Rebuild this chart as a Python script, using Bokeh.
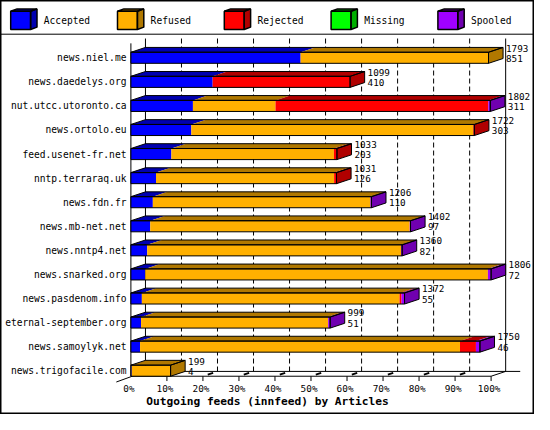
from bokeh.plotting import figure
from bokeh.models import Range1d
from bokeh.embed import file_html
from bokeh.resources import INLINE
from bokeh.core.properties import value

# ---------------- data ----------------
feeds = ["news.niel.me", "news.daedelys.org", "nut.utcc.utoronto.ca", "news.ortolo.eu",
         "feed.usenet-fr.net", "nntp.terraraq.uk", "news.fdn.fr", "news.mb-net.net",
         "news.nntp4.net", "news.snarked.org", "news.pasdenom.info", "eternal-september.org",
         "news.samoylyk.net", "news.trigofacile.com"]
offered  = [1793, 1099, 1802, 1722, 1033, 1031, 1206, 1402, 1360, 1806, 1372, 999, 1750, 199]
accepted = [851, 410, 311, 303, 203, 126, 110, 97, 82, 72, 55, 51, 46, 4]
refused  = [942, 0, 414, 1414, 815, 893, 1091, 1301, 1273, 1718, 1292, 938, 1604, 195]
rejected = [0, 689, 1067, 5, 15, 12, 0, 0, 0, 0, 10, 0, 80, 0]
missing  = [0, 0, 0, 0, 0, 0, 0, 0, 0, 0, 0, 0, 0, 0]
spooled  = [0, 0, 10, 0, 0, 0, 5, 4, 5, 16, 15, 10, 20, 0]

series_names = ["Accepted", "Refused", "Rejected", "Missing", "Spooled"]
front_colors = ["#0000FF", "#FFB000", "#FF0000", "#00FF00", "#A000FF"]
side_colors  = ["#0000B0", "#B07800", "#B00000", "#00B000", "#7000B0"]
tick_values = [0, 10, 20, 30, 40, 50, 60, 70, 80, 90, 100]
tick_labels = ["0%", "10%", "20%", "30%", "40%", "50%", "60%", "70%", "80%", "90%", "100%"]
axis_title = "Outgoing feeds (innfeed) by Articles"

# ---------------- layout (reference pixel space -> data space) ----------------
W, H = 534, 414
REF_W, REF_H = 550, 430
X0, PX_PCT = 134.3, 3.71      # 0% position, px per percent
Y0, PX_ROW = 59.5, 25.0       # first row centre, px per row


def xd(px):
    return (px - X0) / PX_PCT


def yd(py):
    return (py - Y0) / PX_ROW


DX = 15 / PX_PCT
DY = 5 / PX_ROW
HH = 5.75 / PX_ROW
TOP_BACK = yd(39.5)
FLOOR_F = yd(390.25)
FLOOR_B = FLOOR_F - DY

FONT = value("DejaVu Sans Mono")

p = figure(width=W, height=H, x_range=Range1d(xd(0), xd(REF_W)),
           y_range=Range1d(yd(REF_H), yd(0)), output_backend="svg",
           toolbar_location=None, x_axis_type=None, y_axis_type=None,
           min_border=0, title=None)
p.outline_line_color = "black"
p.outline_line_width = 2
p.background_fill_color = "white"
p.border_fill_color = "white"

# ---------------- walls, grid, floor ----------------
gx = [v + DX for v in tick_values[1:-1]]
p.segment(x0=gx, y0=[TOP_BACK] * len(gx), x1=gx, y1=[FLOOR_B] * len(gx),
          line_color="black", line_width=1, line_dash="5 3")

sx0 = [DX, 100 + DX, 0, 0, DX, DX, 100]
sy0 = [TOP_BACK, TOP_BACK, TOP_BACK + DY, FLOOR_F, FLOOR_B, FLOOR_B, FLOOR_F]
sx1 = [DX, 100 + DX, 0, 100, 100 + 2 * DX, -DX, 100 + DX]
sy1 = [FLOOR_B, FLOOR_B, FLOOR_F, FLOOR_F, FLOOR_B, FLOOR_F + 1.2 * DY, FLOOR_B]
p.segment(x0=sx0, y0=sy0, x1=sx1, y1=sy1, line_color="black", line_width=1)

tk = tick_values[1:]
p.segment(x0=tk, y0=[FLOOR_F] * len(tk), x1=tk, y1=[FLOOR_F + 5 / PX_ROW] * len(tk),
          line_color="black", line_width=1)
fd = tick_values[1:-1]
p.segment(x0=[v + 0.33 * DX for v in fd], y0=[FLOOR_F - 0.33 * DY] * len(fd),
          x1=[v + 0.7 * DX for v in fd], y1=[FLOOR_F - 0.7 * DY] * len(fd),
          line_color="black", line_width=2)

# ---------------- bars ----------------
max_total = max(offered)
series = [accepted, refused, rejected, missing, spooled]

fl, fr, ft, fb, fc = [], [], [], [], []
txs, tys, tcs = [], [], []
sxs, sys_, scs = [], [], []
oxs, oys = [], []
for i in range(len(feeds)):
    r = i
    rt, rb = r - HH, r + HH
    cum = 0.0
    last = 0
    for s, vals in enumerate(series):
        v = vals[i]
        if v <= 0:
            continue
        a = 100.0 * cum / max_total
        cum += v
        b = 100.0 * cum / max_total
        fl.append(a); fr.append(b); ft.append(rt); fb.append(rb); fc.append(front_colors[s])
        txs.append([a, b, b + DX, a + DX]); tys.append([rt, rt, rt - DY, rt - DY])
        tcs.append(side_colors[s])
        last = s
    L = 100.0 * cum / max_total
    sxs.append([L, L + DX, L + DX, L]); sys_.append([rt, rt - DY, rb - DY, rb])
    scs.append(side_colors[last])
    oxs += [[0, L, L, 0], [0, L, L + DX, DX], [L, L + DX, L + DX, L]]
    oys += [[rt, rt, rb, rb], [rt, rt, rt - DY, rt - DY], [rt, rt - DY, rb - DY, rb]]

p.quad(left=fl, right=fr, top=ft, bottom=fb, fill_color=fc, line_color=None)
p.patches(xs=txs, ys=tys, fill_color=tcs, line_color=None)
p.patches(xs=sxs, ys=sys_, fill_color=scs, line_color=None)
p.patches(xs=oxs, ys=oys, fill_color=None, line_color="black", line_width=1)

# value labels
lx = [100.0 * offered[i] / max_total + DX + 3 / PX_PCT for i in range(len(feeds))]
p.text(x=lx, y=[i - 0.4 for i in range(len(feeds))], text=[str(v) for v in offered],
       text_font=FONT, text_font_size="9.3px", text_align="left", text_baseline="middle",
       text_color="black")
p.text(x=lx, y=[i + 0.03 for i in range(len(feeds))], text=[str(v) for v in accepted],
       text_font=FONT, text_font_size="9.3px", text_align="left", text_baseline="middle",
       text_color="black")

# category labels
p.text(x=[xd(129.7)] * len(feeds), y=list(range(len(feeds))), text=feeds,
       text_font=FONT, text_font_size="9.6px", text_align="right", text_baseline="middle",
       text_color="black")

# tick labels
p.text(x=[v - 2 / PX_PCT for v in tick_values], y=[yd(402.7)] * len(tick_values),
       text=tick_labels, text_font=FONT, text_font_size="9.4px", text_align="center",
       text_baseline="middle", text_color="black")

# axis title
p.text(x=[xd(275)], y=[yd(417)], text=[axis_title], text_font=FONT,
       text_font_size="11.2px", text_font_style="bold", text_align="center",
       text_baseline="middle", text_color="black")

# ---------------- legend ----------------
p.segment(x0=[xd(0)], y0=[yd(35)], x1=[xd(REF_W)], y1=[yd(35)], line_color="black", line_width=1)
bfx, bfy, bfc, btx, bty, btc, bsx, bsy, bsc, box, boy = [], [], [], [], [], [], [], [], [], [], []
LDX, LDY = 6.6, 2.5
for k, name in enumerate(series_names):
    bx = 10.5 + 110 * k
    x0, x1 = xd(bx), xd(bx + 20.5)
    y0, y1 = yd(11.2), yd(30.2)
    ddx, ddy = LDX / PX_PCT, LDY / PX_ROW
    bfx.append([x0, x1, x1, x0]); bfy.append([y0, y0, y1, y1]); bfc.append(front_colors[k])
    btx.append([x0, x1, x1 + ddx, x0 + ddx]); bty.append([y0, y0, y0 - ddy, y0 - ddy])
    btc.append(side_colors[k])
    bsx.append([x1, x1 + ddx, x1 + ddx, x1]); bsy.append([y0, y0 - ddy, y1 - ddy, y1])
    bsc.append(side_colors[k])
    box += [[x0, x1, x1, x0], [x0, x1, x1 + ddx, x0 + ddx], [x1, x1 + ddx, x1 + ddx, x1]]
    boy += [[y0, y0, y1, y1], [y0, y0, y0 - ddy, y0 - ddy], [y0, y0 - ddy, y1 - ddy, y1]]
p.patches(xs=bfx, ys=bfy, fill_color=bfc, line_color=None)
p.patches(xs=btx, ys=bty, fill_color=btc, line_color=None)
p.patches(xs=bsx, ys=bsy, fill_color=bsc, line_color=None)
p.patches(xs=box, ys=boy, fill_color=None, line_color="black", line_width=1.5)
p.text(x=[xd(44.6 + 110 * k) for k in range(len(series_names))],
       y=[yd(20.8)] * len(series_names), text=series_names, text_font=FONT,
       text_font_size="9.6px", text_align="left", text_baseline="middle", text_color="black")

open("out.html", "w").write(file_html(p, INLINE))
